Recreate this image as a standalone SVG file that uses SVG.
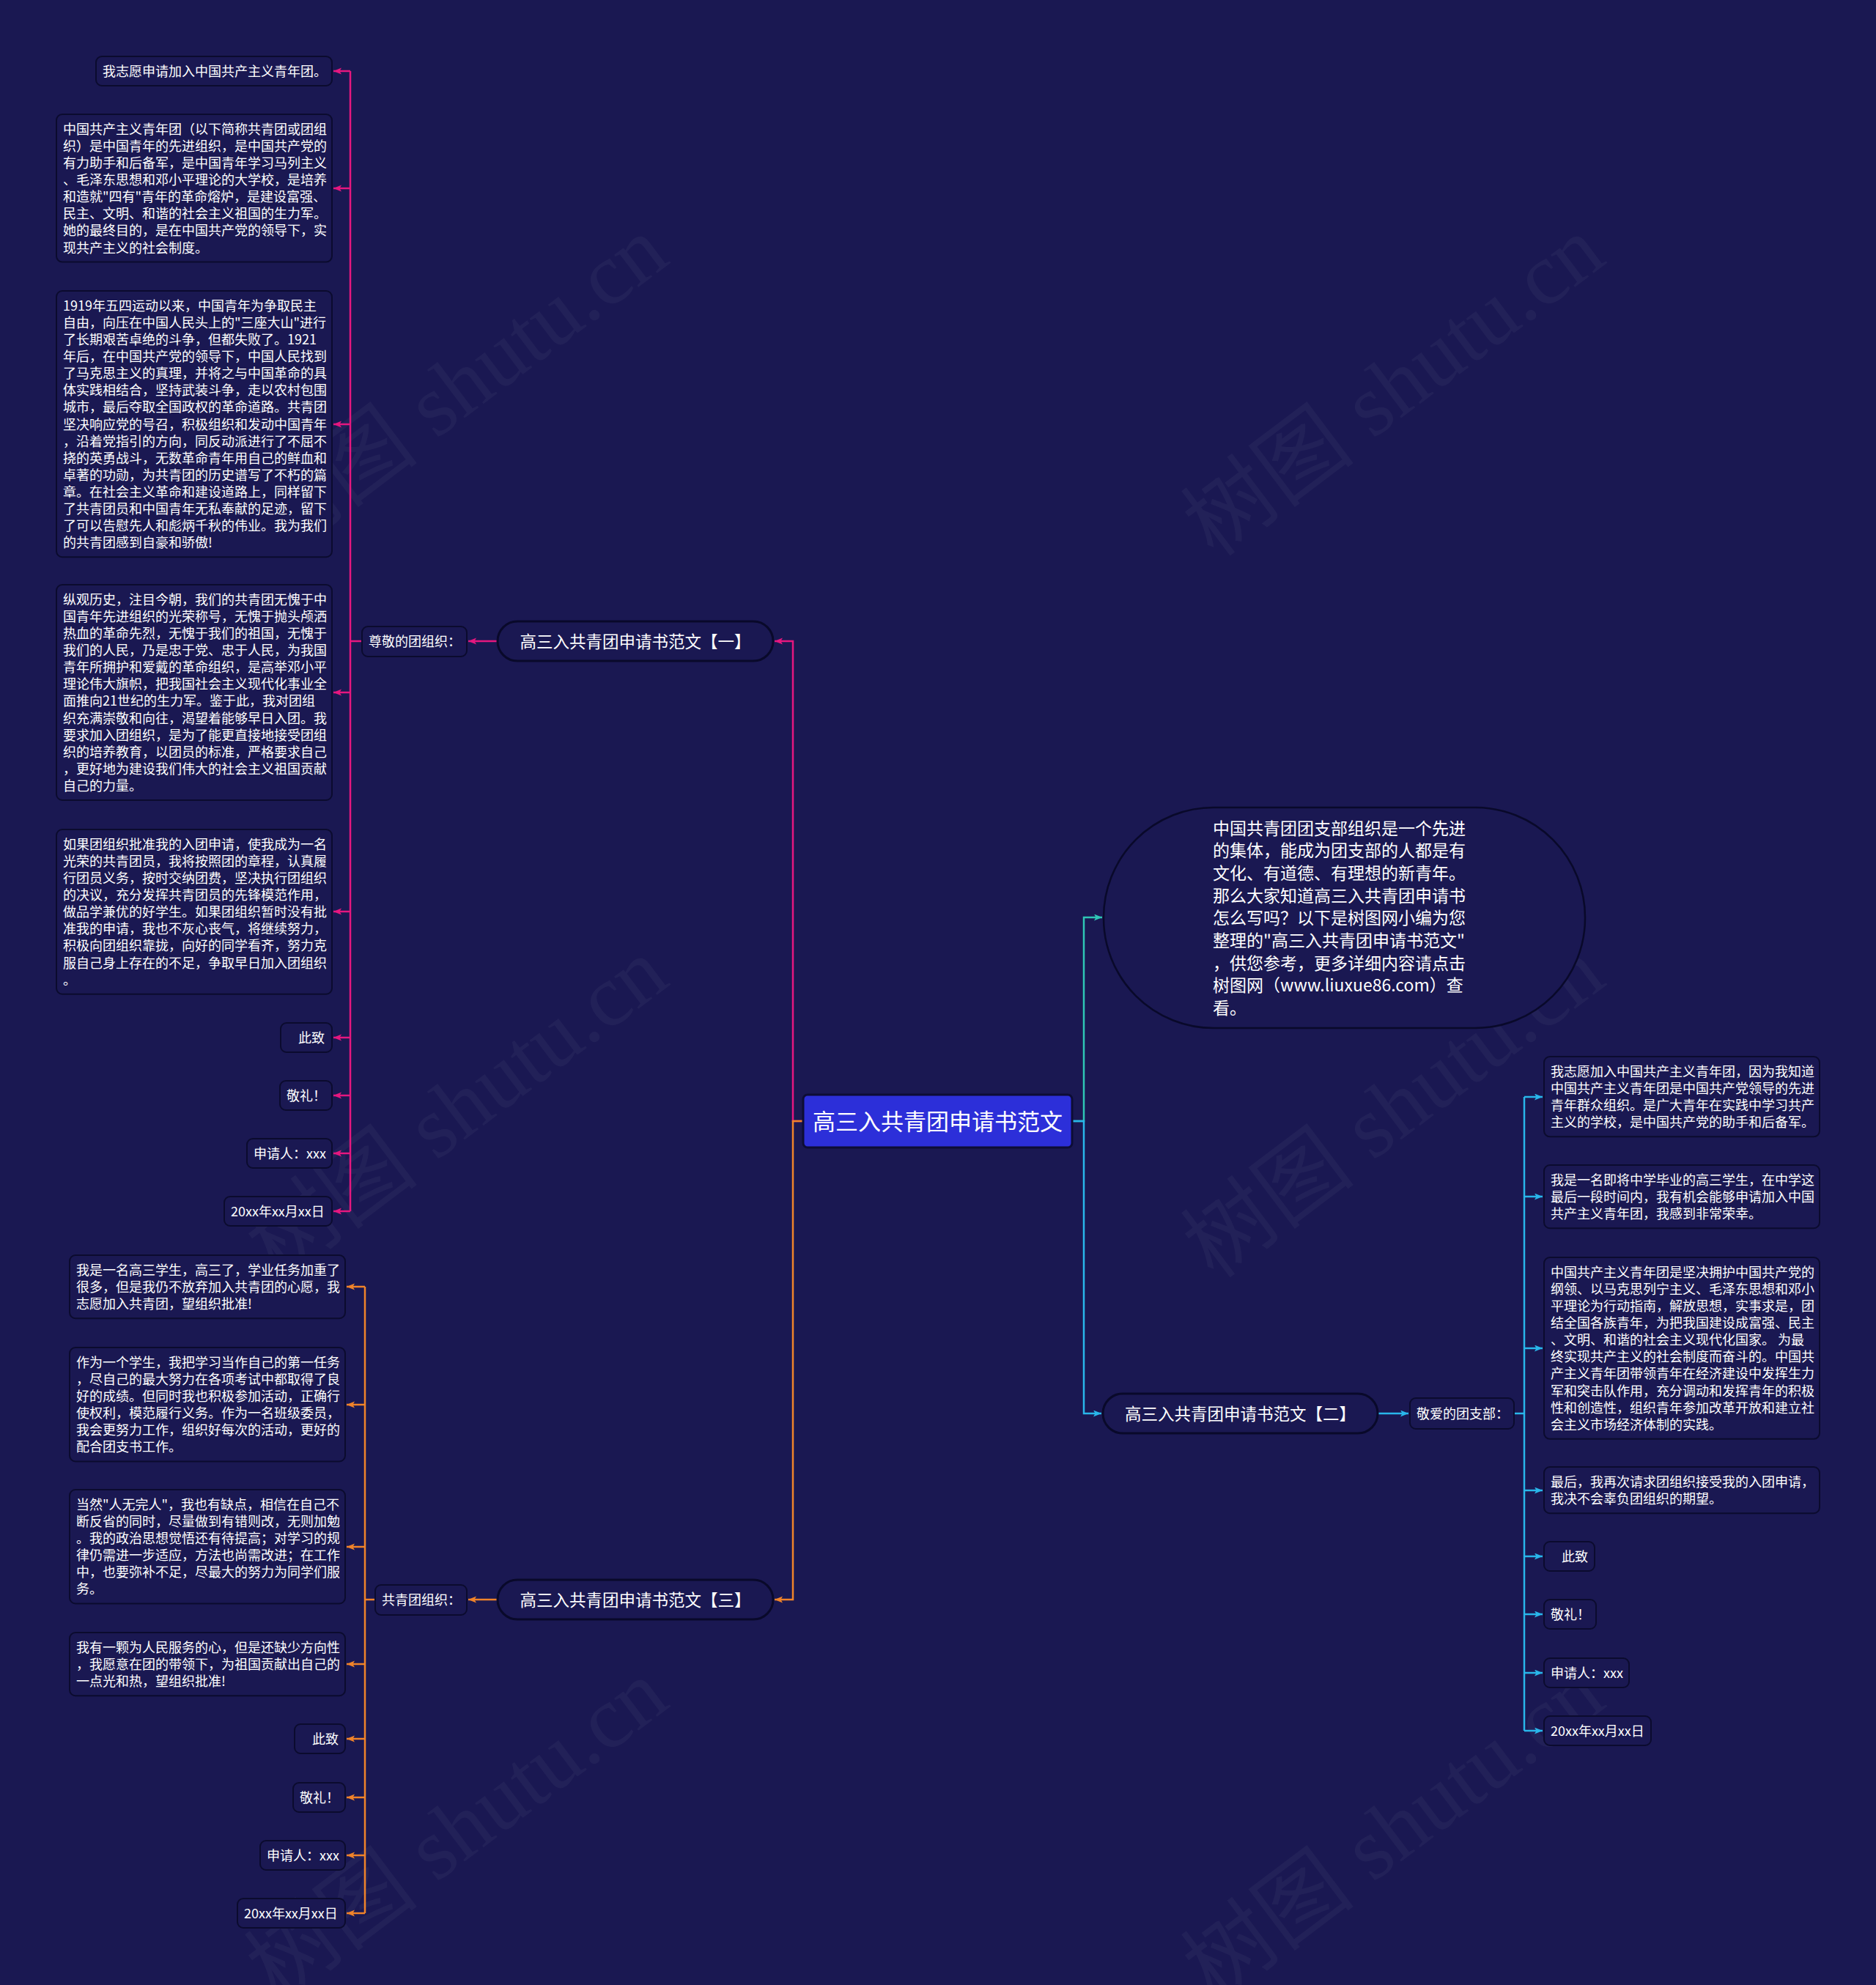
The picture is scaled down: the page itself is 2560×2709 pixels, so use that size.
<svg xmlns="http://www.w3.org/2000/svg" width="2560" height="2709" viewBox="0 0 2560 2709">
<defs>
<style>
.t{font-family:'Noto Sans CJK SC','Microsoft YaHei',sans-serif;fill:#ffffff}
.s18{font-size:18px}
.box{fill:#1a1852;stroke:#0b0b2e;stroke-width:2}
.pill{fill:#1a1852;stroke:#09092a;stroke-width:3}
.c{fill:none;stroke-width:2.5}
.pk{stroke:#e5177f}
.or{stroke:#f0832a}
.tl{stroke:#2fc5b5}
.cy{stroke:#29b6ea}
.wm{font-family:'Liberation Serif','Noto Sans CJK SC',serif;font-size:120px;fill:#ffffff;fill-opacity:0.04}
</style>
<marker id="mpk" markerUnits="userSpaceOnUse" markerWidth="12" markerHeight="10" refX="11" refY="4.5" orient="auto"><path d="M0,0 L11,4.5 L0,9 L2.5,4.5 Z" fill="#e5177f"/></marker>
<marker id="mor" markerUnits="userSpaceOnUse" markerWidth="12" markerHeight="10" refX="11" refY="4.5" orient="auto"><path d="M0,0 L11,4.5 L0,9 L2.5,4.5 Z" fill="#f0832a"/></marker>
<marker id="mtl" markerUnits="userSpaceOnUse" markerWidth="12" markerHeight="10" refX="11" refY="4.5" orient="auto"><path d="M0,0 L11,4.5 L0,9 L2.5,4.5 Z" fill="#2fc5b5"/></marker>
<marker id="mcy" markerUnits="userSpaceOnUse" markerWidth="12" markerHeight="10" refX="11" refY="4.5" orient="auto"><path d="M0,0 L11,4.5 L0,9 L2.5,4.5 Z" fill="#29b6ea"/></marker>
</defs>
<rect x="0" y="0" width="2560" height="2709" fill="#1a1852"/>

<g id="watermarks">
<text class="wm" text-anchor="middle" transform="translate(648,560) rotate(-37)">树图 shutu.cn</text>
<text class="wm" text-anchor="middle" transform="translate(1926,560) rotate(-37)">树图 shutu.cn</text>
<text class="wm" text-anchor="middle" transform="translate(648,1545) rotate(-37)">树图 shutu.cn</text>
<text class="wm" text-anchor="middle" transform="translate(1926,1545) rotate(-37)">树图 shutu.cn</text>
<text class="wm" text-anchor="middle" transform="translate(648,2530) rotate(-37)">树图 shutu.cn</text>
<text class="wm" text-anchor="middle" transform="translate(1926,2530) rotate(-37)">树图 shutu.cn</text>
</g>

<g id="connectors">
<path class="c pk" d="M1096,1530 H1082 V875 H1057" marker-end="url(#mpk)"/>
<path class="c pk" d="M679,875 H639" marker-end="url(#mpk)"/>
<path class="c pk" d="M494,875 H478"/>
<path class="c pk" d="M478,97 V1653"/>
<path class="c pk" d="M478,97 H455" marker-end="url(#mpk)"/>
<path class="c pk" d="M478,257 H455" marker-end="url(#mpk)"/>
<path class="c pk" d="M478,579 H455" marker-end="url(#mpk)"/>
<path class="c pk" d="M478,945 H455" marker-end="url(#mpk)"/>
<path class="c pk" d="M478,1244 H455" marker-end="url(#mpk)"/>
<path class="c pk" d="M478,1416 H455" marker-end="url(#mpk)"/>
<path class="c pk" d="M478,1495 H455" marker-end="url(#mpk)"/>
<path class="c pk" d="M478,1574 H455" marker-end="url(#mpk)"/>
<path class="c pk" d="M478,1653 H455" marker-end="url(#mpk)"/>

<path class="c or" d="M1096,1530 H1082 V2183 H1057" marker-end="url(#mor)"/>
<path class="c or" d="M679,2183 H639" marker-end="url(#mor)"/>
<path class="c or" d="M512,2183 H498"/>
<path class="c or" d="M498,1756 V2611"/>
<path class="c or" d="M498,1756 H473" marker-end="url(#mor)"/>
<path class="c or" d="M498,1917 H473" marker-end="url(#mor)"/>
<path class="c or" d="M498,2111 H473" marker-end="url(#mor)"/>
<path class="c or" d="M498,2271 H473" marker-end="url(#mor)"/>
<path class="c or" d="M498,2373 H473" marker-end="url(#mor)"/>
<path class="c or" d="M498,2453 H473" marker-end="url(#mor)"/>
<path class="c or" d="M498,2532 H473" marker-end="url(#mor)"/>
<path class="c or" d="M498,2611 H473" marker-end="url(#mor)"/>

<path class="c tl" d="M1463,1530 H1479 V1252 H1504" marker-end="url(#mtl)"/>

<path class="c cy" d="M1463,1530 H1479 V1929 H1503" marker-end="url(#mcy)"/>
<path class="c cy" d="M1880,1929 H1922" marker-end="url(#mcy)"/>
<path class="c cy" d="M2066,1929 H2080"/>
<path class="c cy" d="M2080,1497 V2362"/>
<path class="c cy" d="M2080,1497 H2105" marker-end="url(#mcy)"/>
<path class="c cy" d="M2080,1633 H2105" marker-end="url(#mcy)"/>
<path class="c cy" d="M2080,1840 H2105" marker-end="url(#mcy)"/>
<path class="c cy" d="M2080,2034 H2105" marker-end="url(#mcy)"/>
<path class="c cy" d="M2080,2124 H2105" marker-end="url(#mcy)"/>
<path class="c cy" d="M2080,2203 H2105" marker-end="url(#mcy)"/>
<path class="c cy" d="M2080,2283 H2105" marker-end="url(#mcy)"/>
<path class="c cy" d="M2080,2362 H2105" marker-end="url(#mcy)"/>
</g>

<g id="center">
<rect x="1096" y="1494" width="367" height="72" rx="6" fill="#2c2fd9" stroke="#0d0d35" stroke-width="3"/>
<text class="t" x="1279.5" y="1541.5" font-size="31" text-anchor="middle">高三入共青团申请书范文</text>
</g>

<g id="branch1">
<rect class="pill" x="679" y="848" width="376" height="54" rx="27"/>
<text class="t" x="867" y="883.5" font-size="22.5" text-anchor="middle">高三入共青团申请书范文【一】</text>
</g>
<g id="label1">
<rect class="box" x="494" y="855" width="143" height="41" rx="8"/>
<text class="t s18" x="503" y="882">尊敬的团组织：</text>
</g>

<g id="n1-1">
<rect class="box" x="131" y="77" width="322" height="40" rx="8"/>
<text class="t s18" x="140" y="104">我志愿申请加入中国共产主义青年团。</text>
</g>
<g id="n1-2">
<rect class="box" x="77" y="156" width="376" height="201.6" rx="8"/>
<text class="t s18" y="183"><tspan x="86">中国共产主义青年团（以下简称共青团或团组</tspan><tspan x="86" dy="23.08">织）是中国青年的先进组织，是中国共产党的</tspan><tspan x="86" dy="23.08">有力助手和后备军，是中国青年学习马列主义</tspan><tspan x="86" dy="23.08">、毛泽东思想和邓小平理论的大学校，是培养</tspan><tspan x="86" dy="23.08">和造就"四有"青年的革命熔炉，是建设富强、</tspan><tspan x="86" dy="23.08">民主、文明、和谐的社会主义祖国的生力军。</tspan><tspan x="86" dy="23.08">她的最终目的，是在中国共产党的领导下，实</tspan><tspan x="86" dy="23.08">现共产主义的社会制度。</tspan></text>
</g>
<g id="n1-3">
<rect class="box" x="77" y="397" width="376" height="363.2" rx="8"/>
<text class="t s18" y="424"><tspan x="86">1919年五四运动以来，中国青年为争取民主</tspan><tspan x="86" dy="23.08">自由，向压在中国人民头上的"三座大山"进行</tspan><tspan x="86" dy="23.08">了长期艰苦卓绝的斗争，但都失败了。1921</tspan><tspan x="86" dy="23.08">年后，在中国共产党的领导下，中国人民找到</tspan><tspan x="86" dy="23.08">了马克思主义的真理，并将之与中国革命的具</tspan><tspan x="86" dy="23.08">体实践相结合，坚持武装斗争，走以农村包围</tspan><tspan x="86" dy="23.08">城市，最后夺取全国政权的革命道路。共青团</tspan><tspan x="86" dy="23.08">坚决响应党的号召，积极组织和发动中国青年</tspan><tspan x="86" dy="23.08">，沿着党指引的方向，同反动派进行了不屈不</tspan><tspan x="86" dy="23.08">挠的英勇战斗，无数革命青年用自己的鲜血和</tspan><tspan x="86" dy="23.08">卓著的功勋，为共青团的历史谱写了不朽的篇</tspan><tspan x="86" dy="23.08">章。在社会主义革命和建设道路上，同样留下</tspan><tspan x="86" dy="23.08">了共青团员和中国青年无私奉献的足迹，留下</tspan><tspan x="86" dy="23.08">了可以告慰先人和彪炳千秋的伟业。我为我们</tspan><tspan x="86" dy="23.08">的共青团感到自豪和骄傲!</tspan></text>
</g>
<g id="n1-4">
<rect class="box" x="77" y="798" width="376" height="294" rx="8"/>
<text class="t s18" y="825"><tspan x="86">纵观历史，注目今朝，我们的共青团无愧于中</tspan><tspan x="86" dy="23.08">国青年先进组织的光荣称号，无愧于抛头颅洒</tspan><tspan x="86" dy="23.08">热血的革命先烈，无愧于我们的祖国，无愧于</tspan><tspan x="86" dy="23.08">我们的人民，乃是忠于党、忠于人民，为我国</tspan><tspan x="86" dy="23.08">青年所拥护和爱戴的革命组织，是高举邓小平</tspan><tspan x="86" dy="23.08">理论伟大旗帜，把我国社会主义现代化事业全</tspan><tspan x="86" dy="23.08">面推向21世纪的生力军。鉴于此，我对团组</tspan><tspan x="86" dy="23.08">织充满崇敬和向往，渴望着能够早日入团。我</tspan><tspan x="86" dy="23.08">要求加入团组织，是为了能更直接地接受团组</tspan><tspan x="86" dy="23.08">织的培养教育，以团员的标准，严格要求自己</tspan><tspan x="86" dy="23.08">，更好地为建设我们伟大的社会主义祖国贡献</tspan><tspan x="86" dy="23.08">自己的力量。</tspan></text>
</g>
<g id="n1-5">
<rect class="box" x="77" y="1132" width="376" height="224.7" rx="8"/>
<text class="t s18" y="1159"><tspan x="86">如果团组织批准我的入团申请，使我成为一名</tspan><tspan x="86" dy="23.08">光荣的共青团员，我将按照团的章程，认真履</tspan><tspan x="86" dy="23.08">行团员义务，按时交纳团费，坚决执行团组织</tspan><tspan x="86" dy="23.08">的决议，充分发挥共青团员的先锋模范作用，</tspan><tspan x="86" dy="23.08">做品学兼优的好学生。如果团组织暂时没有批</tspan><tspan x="86" dy="23.08">准我的申请，我也不灰心丧气，将继续努力，</tspan><tspan x="86" dy="23.08">积极向团组织靠拢，向好的同学看齐，努力克</tspan><tspan x="86" dy="23.08">服自己身上存在的不足，争取早日加入团组织</tspan><tspan x="86" dy="23.08">。</tspan></text>
</g>
<g id="n1-6">
<rect class="box" x="383" y="1396" width="70" height="40" rx="8"/>
<text class="t s18" x="407" y="1423">此致</text>
</g>
<g id="n1-7">
<rect class="box" x="382" y="1475" width="71" height="40" rx="8"/>
<text class="t s18" x="391" y="1502">敬礼！</text>
</g>
<g id="n1-8">
<rect class="box" x="337" y="1554" width="116" height="40" rx="8"/>
<text class="t s18" x="346" y="1581">申请人：xxx</text>
</g>
<g id="n1-9">
<rect class="box" x="306" y="1633" width="147" height="40" rx="8"/>
<text class="t s18" x="315" y="1660">20xx年xx月xx日</text>
</g>

<g id="intro">
<rect x="1506" y="1102" width="657" height="301" rx="150" fill="#1a1852" stroke="#09092a" stroke-width="2.5"/>
<text class="t" font-size="23" y="1138.5"><tspan x="1655">中国共青团团支部组织是一个先进</tspan><tspan x="1655" dy="30.7">的集体，能成为团支部的人都是有</tspan><tspan x="1655" dy="30.7">文化、有道德、有理想的新青年。</tspan><tspan x="1655" dy="30.7">那么大家知道高三入共青团申请书</tspan><tspan x="1655" dy="30.7">怎么写吗？以下是树图网小编为您</tspan><tspan x="1655" dy="30.7">整理的"高三入共青团申请书范文"</tspan><tspan x="1655" dy="30.7">，供您参考，更多详细内容请点击</tspan><tspan x="1655" dy="30.7">树图网（www.liuxue86.com）查</tspan><tspan x="1655" dy="30.7">看。</tspan></text>
</g>

<g id="branch2">
<rect class="pill" x="1505" y="1902" width="375" height="54" rx="27"/>
<text class="t" x="1692.5" y="1937.5" font-size="22.5" text-anchor="middle">高三入共青团申请书范文【二】</text>
</g>
<g id="label2">
<rect class="box" x="1924" y="1908" width="142" height="42" rx="8"/>
<text class="t s18" x="1933" y="1936">敬爱的团支部：</text>
</g>

<g id="n2-1">
<rect class="box" x="2107" y="1442" width="376" height="109.3" rx="8"/>
<text class="t s18" y="1469"><tspan x="2116">我志愿加入中国共产主义青年团，因为我知道</tspan><tspan x="2116" dy="23.08">中国共产主义青年团是中国共产党领导的先进</tspan><tspan x="2116" dy="23.08">青年群众组织。是广大青年在实践中学习共产</tspan><tspan x="2116" dy="23.08">主义的学校，是中国共产党的助手和后备军。</tspan></text>
</g>
<g id="n2-2">
<rect class="box" x="2107" y="1590" width="376" height="86.2" rx="8"/>
<text class="t s18" y="1617"><tspan x="2116">我是一名即将中学毕业的高三学生，在中学这</tspan><tspan x="2116" dy="23.08">最后一段时间内，我有机会能够申请加入中国</tspan><tspan x="2116" dy="23.08">共产主义青年团，我感到非常荣幸。</tspan></text>
</g>
<g id="n2-3">
<rect class="box" x="2107" y="1716" width="376" height="247.8" rx="8"/>
<text class="t s18" y="1743"><tspan x="2116">中国共产主义青年团是坚决拥护中国共产党的</tspan><tspan x="2116" dy="23.08">纲领、以马克思列宁主义、毛泽东思想和邓小</tspan><tspan x="2116" dy="23.08">平理论为行动指南，解放思想，实事求是，团</tspan><tspan x="2116" dy="23.08">结全国各族青年，为把我国建设成富强、民主</tspan><tspan x="2116" dy="23.08">、文明、和谐的社会主义现代化国家。 为最</tspan><tspan x="2116" dy="23.08">终实现共产主义的社会制度而奋斗的。中国共</tspan><tspan x="2116" dy="23.08">产主义青年团带领青年在经济建设中发挥生力</tspan><tspan x="2116" dy="23.08">军和突击队作用，充分调动和发挥青年的积极</tspan><tspan x="2116" dy="23.08">性和创造性，组织青年参加改革开放和建立社</tspan><tspan x="2116" dy="23.08">会主义市场经济体制的实践。</tspan></text>
</g>
<g id="n2-4">
<rect class="box" x="2107" y="2002" width="376" height="63.2" rx="8"/>
<text class="t s18" y="2029"><tspan x="2116">最后，我再次请求团组织接受我的入团申请，</tspan><tspan x="2116" dy="23.08">我决不会辜负团组织的期望。</tspan></text>
</g>
<g id="n2-5">
<rect class="box" x="2107" y="2104" width="69" height="40" rx="8"/>
<text class="t s18" x="2131" y="2131">此致</text>
</g>
<g id="n2-6">
<rect class="box" x="2107" y="2183" width="71" height="40" rx="8"/>
<text class="t s18" x="2116" y="2210">敬礼！</text>
</g>
<g id="n2-7">
<rect class="box" x="2107" y="2263" width="116" height="40" rx="8"/>
<text class="t s18" x="2116" y="2290">申请人：xxx</text>
</g>
<g id="n2-8">
<rect class="box" x="2107" y="2342" width="146" height="40" rx="8"/>
<text class="t s18" x="2116" y="2369">20xx年xx月xx日</text>
</g>

<g id="branch3">
<rect class="pill" x="679" y="2156" width="376" height="54" rx="27"/>
<text class="t" x="867" y="2191.5" font-size="22.5" text-anchor="middle">高三入共青团申请书范文【三】</text>
</g>
<g id="label3">
<rect class="box" x="512" y="2163" width="125" height="41" rx="8"/>
<text class="t s18" x="521" y="2190">共青团组织：</text>
</g>

<g id="n3-1">
<rect class="box" x="95" y="1713" width="376" height="86.2" rx="8"/>
<text class="t s18" y="1740"><tspan x="104">我是一名高三学生，高三了，学业任务加重了</tspan><tspan x="104" dy="23.08">很多，但是我仍不放弃加入共青团的心愿，我</tspan><tspan x="104" dy="23.08">志愿加入共青团，望组织批准!</tspan></text>
</g>
<g id="n3-2">
<rect class="box" x="95" y="1839" width="376" height="155.5" rx="8"/>
<text class="t s18" y="1866"><tspan x="104">作为一个学生，我把学习当作自己的第一任务</tspan><tspan x="104" dy="23.08">，尽自己的最大努力在各项考试中都取得了良</tspan><tspan x="104" dy="23.08">好的成绩。但同时我也积极参加活动，正确行</tspan><tspan x="104" dy="23.08">使权利，模范履行义务。作为一名班级委员，</tspan><tspan x="104" dy="23.08">我会更努力工作，组织好每次的活动，更好的</tspan><tspan x="104" dy="23.08">配合团支书工作。</tspan></text>
</g>
<g id="n3-3">
<rect class="box" x="95" y="2033" width="376" height="155.5" rx="8"/>
<text class="t s18" y="2060"><tspan x="104">当然"人无完人"，我也有缺点，相信在自己不</tspan><tspan x="104" dy="23.08">断反省的同时，尽量做到有错则改，无则加勉</tspan><tspan x="104" dy="23.08">。我的政治思想觉悟还有待提高；对学习的规</tspan><tspan x="104" dy="23.08">律仍需进一步适应，方法也尚需改进；在工作</tspan><tspan x="104" dy="23.08">中，也要弥补不足，尽最大的努力为同学们服</tspan><tspan x="104" dy="23.08">务。</tspan></text>
</g>
<g id="n3-4">
<rect class="box" x="95" y="2228" width="376" height="86.2" rx="8"/>
<text class="t s18" y="2255"><tspan x="104">我有一颗为人民服务的心，但是还缺少方向性</tspan><tspan x="104" dy="23.08">，我愿意在团的带领下，为祖国贡献出自己的</tspan><tspan x="104" dy="23.08">一点光和热，望组织批准!</tspan></text>
</g>
<g id="n3-5">
<rect class="box" x="402" y="2353" width="69" height="40" rx="8"/>
<text class="t s18" x="426" y="2380">此致</text>
</g>
<g id="n3-6">
<rect class="box" x="400" y="2433" width="71" height="40" rx="8"/>
<text class="t s18" x="409" y="2460">敬礼！</text>
</g>
<g id="n3-7">
<rect class="box" x="355" y="2512" width="116" height="40" rx="8"/>
<text class="t s18" x="364" y="2539">申请人：xxx</text>
</g>
<g id="n3-8">
<rect class="box" x="324" y="2591" width="147" height="40" rx="8"/>
<text class="t s18" x="333" y="2618">20xx年xx月xx日</text>
</g>
</svg>
